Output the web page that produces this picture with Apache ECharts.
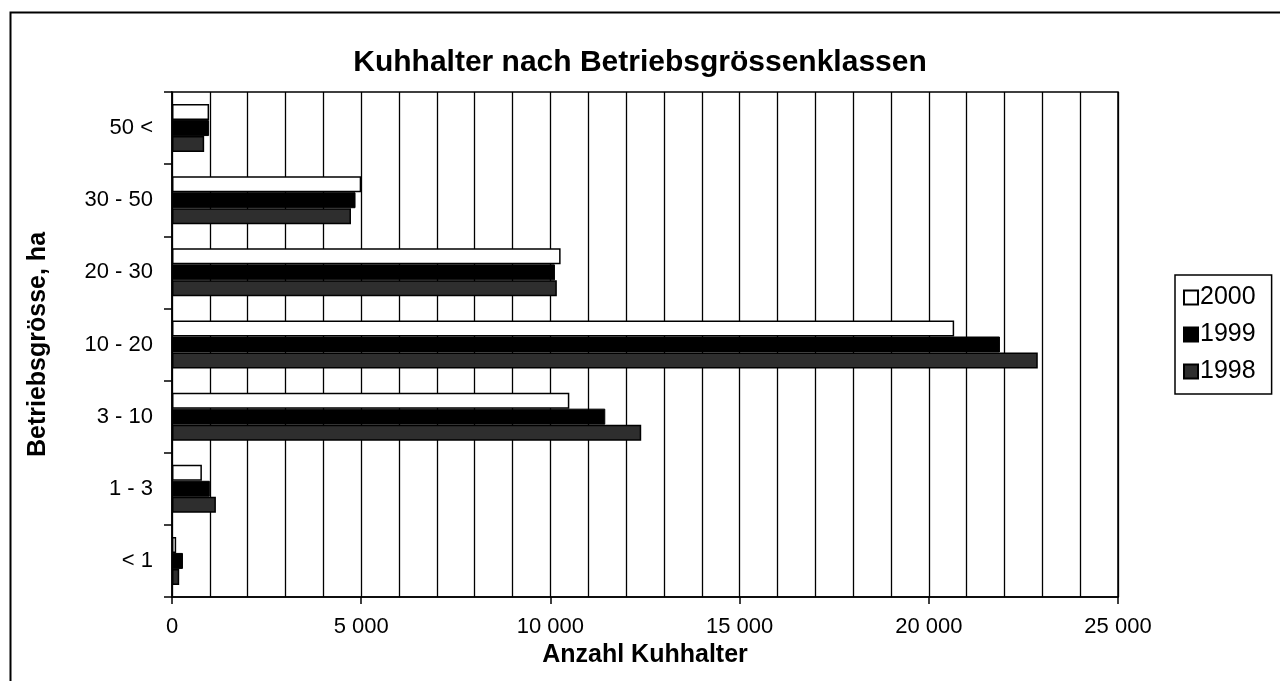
<!DOCTYPE html>
<html>
<head>
<meta charset="utf-8">
<script src="https://cdn.jsdelivr.net/npm/echarts@6/dist/echarts.min.js"></script>
<style>html,body{margin:0;padding:0;background:#fff}#c{width:1280px;height:681px}</style>
</head>
<body>
<div id="c"></div>
<script>
const categories = ['50 <', '30 - 50', '20 - 30', '10 - 20', '3 - 10', '1 - 3', '< 1'];
const seriesNames = ['2000', '1999', '1998'];
const values2000 = [980, 5000, 10270, 20670, 10500, 790, 110];
const values1999 = [980, 4850, 10120, 21880, 11450, 1000, 290];
const values1998 = [850, 4730, 10170, 22880, 12400, 1160, 190];
const xTicks = [0, 5000, 10000, 15000, 20000, 25000];

const FONT = 'Liberation Sans, Arial, sans-serif';
const chart = echarts.init(document.getElementById('c'));
const styles = [
  {color: '#ffffff', borderColor: '#000', borderWidth: 1.5},
  {color: '#000000', borderColor: '#000', borderWidth: 1},
  {color: '#2e2e2e', borderColor: '#000', borderWidth: 1.5}
];
const data = [values2000, values1999, values1998];
chart.setOption({
  animation: false,
  backgroundColor: '#fff',
  title: {
    text: 'Kuhhalter nach Betriebsgrössenklassen',
    left: 'center', top: 43,
    textStyle: {fontFamily: FONT, fontSize: 30, fontWeight: 'bold', color: '#000'}
  },
  legend: {
    data: seriesNames,
    orient: 'vertical',
    left: 1175, top: 275,
    icon: 'rect', itemWidth: 14, itemHeight: 14, itemGap: 12,
    borderColor: '#000', borderWidth: 1.5,
    padding: [10, 16, 10, 8],
    textStyle: {fontFamily: FONT, fontSize: 25, color: '#000', padding: [0,0,0,-3]}
  },
  graphic: [{
    type: 'rect', left: 8, top: 10, shape: {width: 1400, height: 800},
    style: {fill: 'none', stroke: '#000', lineWidth: 2}, silent: true
  }],
  grid: {left: 172, right: 162, top: 92, bottom: 84, show: true, borderColor: '#000', borderWidth: 1.5, backgroundColor: 'transparent'},
  xAxis: {
    type: 'value', min: 0, max: 25000, interval: 5000,
    name: 'Anzahl Kuhhalter', nameLocation: 'middle', nameGap: 45,
    nameTextStyle: {fontFamily: FONT, fontSize: 25, fontWeight: 'bold', color: '#000'},
    axisLine: {show: true, lineStyle: {color: '#000', width: 1.5}},
    axisTick: {show: true, length: 7, lineStyle: {color: '#000', width: 1.5}},
    axisLabel: {
      margin: 19, fontFamily: FONT, fontSize: 22, color: '#000',
      formatter: v => xTicks.includes(v) ? (v >= 1000 ? Math.floor(v/1000) + ' ' + String(v % 1000).padStart(3, '0') : String(v)) : ''
    },
    splitLine: {show: true, lineStyle: {color: '#000', width: 1.3}},
    minorTick: {show: false, splitNumber: 5},
    minorSplitLine: {show: true, lineStyle: {color: '#000', width: 1.3}}
  },
  yAxis: {
    type: 'category', data: categories, inverse: true,
    name: 'Betriebsgrösse, ha', nameLocation: 'middle', nameGap: 121,
    nameTextStyle: {fontFamily: FONT, fontSize: 25, fontWeight: 'bold', color: '#000'},
    axisLine: {show: true, lineStyle: {color: '#000', width: 1.5}},
    axisTick: {show: true, length: 8, lineStyle: {color: '#000', width: 1.5}},
    axisLabel: {margin: 19, fontFamily: FONT, fontSize: 22, color: '#000'}
  },
  series: seriesNames.map((n, i) => ({
    name: n, type: 'bar', data: data[i],
    barWidth: 16, barGap: '0%',
    itemStyle: styles[i]
  }))
});
</script>
</body>
</html>
